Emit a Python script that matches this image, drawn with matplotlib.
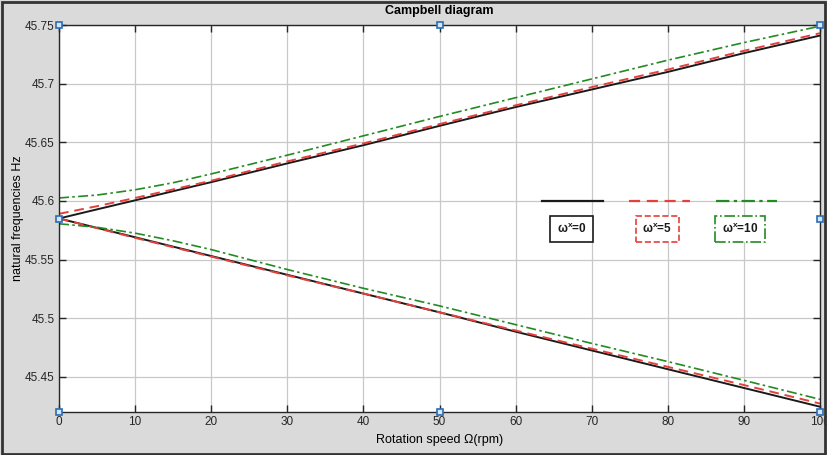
#!/usr/bin/env python3

import numpy as np
import matplotlib
matplotlib.use("Agg")
import matplotlib.pyplot as plt
from matplotlib.patches import Rectangle
from matplotlib.lines import Line2D
from matplotlib.ticker import FuncFormatter

# =====================================================
# DATA
# =====================================================

speed_rpm = [0, 5, 10, 15, 20, 30, 40, 50, 60, 70, 80, 90, 100]

# omega^x = 0
w0_upper = [45.585, 45.5928, 45.6005, 45.6083, 45.616, 45.632, 45.6475,
            45.664, 45.680, 45.695, 45.710, 45.726, 45.741]
w0_lower = [45.585, 45.577, 45.569, 45.561, 45.553, 45.537, 45.521,
            45.505, 45.4885, 45.4725, 45.4565, 45.4405, 45.4245]

# omega^x = 5
w5_upper = [45.589, 45.5955, 45.6025, 45.6098, 45.6172, 45.6337, 45.649,
            45.6655, 45.6815, 45.697, 45.712, 45.728, 45.743]
w5_lower = [45.585, 45.5768, 45.5685, 45.5605, 45.5525, 45.5365, 45.521,
            45.505, 45.4895, 45.474, 45.4585, 45.443, 45.4272]

# omega^x = 10
w10_upper = [45.6025, 45.605, 45.6095, 45.6155, 45.623, 45.639, 45.6555,
             45.672, 45.688, 45.704, 45.720, 45.735, 45.749]
w10_lower = [45.5805, 45.5775, 45.5725, 45.566, 45.5585, 45.5415, 45.5255,
             45.5105, 45.4945, 45.4785, 45.463, 45.447, 45.4308]

legend_labels = [r"$\mathbf{\omega^x}$=0", r"$\mathbf{\omega^x}$=5", r"$\mathbf{\omega^x}$=10"]

# =====================================================
# STYLE
# =====================================================

BLACK = "#1a1a1a"
RED = "#e4413d"
GREEN = "#228b22"
BG = "#dadada"

plt.rcParams["font.family"] = ["Liberation Sans", "DejaVu Sans"]
plt.rcParams["mathtext.fontset"] = "custom"
plt.rcParams["mathtext.rm"] = "Liberation Sans"
plt.rcParams["mathtext.it"] = "Liberation Sans:italic"
plt.rcParams["mathtext.bf"] = "Liberation Sans:bold"

fig = plt.figure(figsize=(8.27, 4.55), dpi=100, facecolor=BG)
ax = fig.add_axes([59 / 827, 1 - 412 / 455, 761 / 827, 387 / 455])
ax.set_facecolor("white")

ax.plot(speed_rpm, w0_upper, "-", color=BLACK, lw=1.4)
ax.plot(speed_rpm, w0_lower, "-", color=BLACK, lw=1.4)
ax.plot(speed_rpm, w5_upper, "--", color=RED, lw=1.4, dashes=(5, 3))
ax.plot(speed_rpm, w5_lower, "--", color=RED, lw=1.4, dashes=(5, 3))
ax.plot(speed_rpm, w10_upper, "-.", color=GREEN, lw=1.2, dashes=(6, 2, 1.5, 2))
ax.plot(speed_rpm, w10_lower, "-.", color=GREEN, lw=1.2, dashes=(6, 2, 1.5, 2))

ax.set_xlim(0, 100)
ax.set_ylim(45.42, 45.75)
ax.set_xticks(np.arange(0, 101, 10))
ax.set_yticks([45.45, 45.5, 45.55, 45.6, 45.65, 45.7, 45.75])
ax.yaxis.set_major_formatter(FuncFormatter(lambda v, p: f"{v:g}"))

ax.grid(True, color="#c8c8c8", lw=0.9)
ax.tick_params(direction="in", length=5, width=1, top=True, right=True,
               labelsize=8.5, colors="#262626", pad=3)
for s in ax.spines.values():
    s.set_color("#262626")
    s.set_linewidth(1.0)

ax.set_title("Campbell diagram", fontsize=9, fontweight="bold", pad=8)
ax.set_xlabel("Rotation speed \u03a9(rpm)", fontsize=9, labelpad=4)
ax.set_ylabel("natural frequencies Hz", fontsize=9, labelpad=1)

# -------- legend (MATLAB style: line above boxed text) --------
leg_styles = [
    (BLACK, "-", None, 0.675, 0.674),
    (RED, "--", (5, 3), 0.789, 0.786),
    (GREEN, "-.", (6, 2, 1.5, 2), 0.903, 0.895),
]
for (col, ls, dsh, x_line, x_txt), lab in zip(leg_styles, legend_labels):
    ln = Line2D([x_line - 0.04, x_line + 0.04], [0.545, 0.545], color=col,
                lw=1.6, ls=ls, transform=ax.transAxes)
    if dsh is not None:
        ln.set_dashes(dsh)
    ax.add_line(ln)
    ax.text(x_txt, 0.473, lab, transform=ax.transAxes, ha="center", va="center",
            fontsize=8.5, fontweight="bold", color="#1a1a1a",
            bbox=dict(boxstyle="square,pad=0.55", fc="white", ec=col,
                      ls=ls, lw=1.2))

# -------- selection handles --------
hx = [0, 50, 100, 0, 100, 0, 50, 100]
hy = [45.75, 45.75, 45.75, 45.585, 45.585, 45.42, 45.42, 45.42]
ax.plot(hx, hy, "s", ms=4.5, mfc="#d6e6f7", mec="#2b6cb5", mew=1.2,
        ls="none", clip_on=False, zorder=10)

# -------- figure border --------
fig.patches.append(Rectangle((0.003, 0.003), 0.994, 0.992,
                             transform=fig.transFigure, fill=False,
                             ec="#333333", lw=2))

fig.savefig("out.png", dpi=100, facecolor=BG)
